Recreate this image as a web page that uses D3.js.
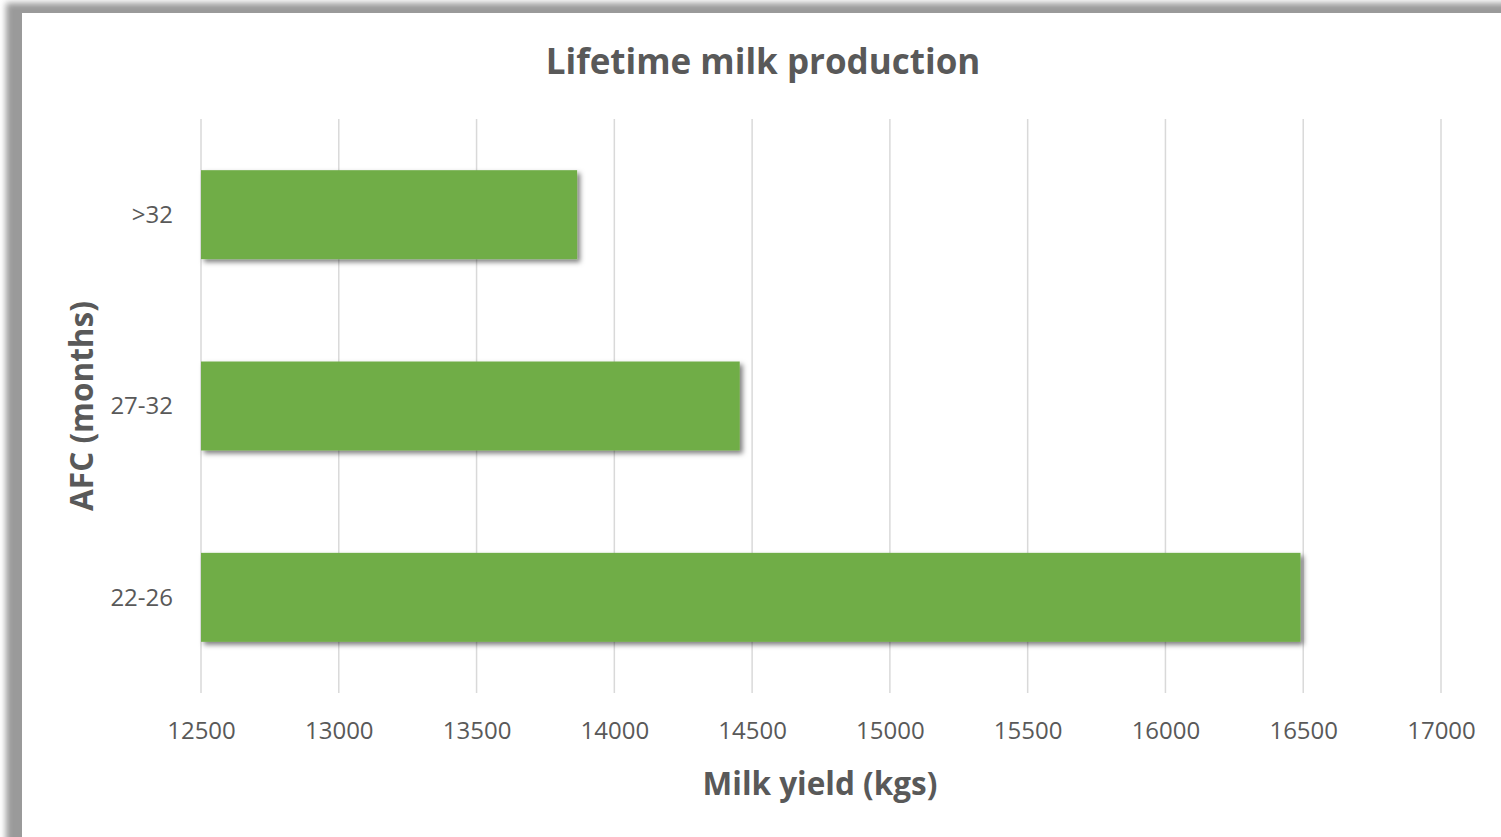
<!DOCTYPE html>
<html>
<head>
<meta charset="utf-8">
<script src="https://cdn.jsdelivr.net/npm/d3@7"></script>
<style>
  html, body { margin: 0; padding: 0; background: #ffffff; }
  svg { display: block; }
  text { font-family: "Open Sans", "Liberation Sans", sans-serif; fill: #595959; }
</style>
</head>
<body>
<script>
// Lifetime milk production by age at first calving (AFC)
const categories = ["22-26", "27-32", ">32"];
const milkYield = [16490, 14455, 13865];
const xTicks = [12500, 13000, 13500, 14000, 14500, 15000, 15500, 16000, 16500, 17000];

const W = 1501, H = 837;
const margin = { left: 201, right: 60, top: 119, bottom: 144 };

const svg = d3.select("body").append("svg").attr("width", W).attr("height", H);
const defs = svg.append("defs");

// soft frame shadow
defs.append("filter").attr("id", "frameBlur")
  .attr("x", "-5%").attr("y", "-5%").attr("width", "110%").attr("height", "110%")
  .append("feGaussianBlur").attr("stdDeviation", 3);

// bar drop shadow
const bs = defs.append("filter").attr("id", "barShadow")
  .attr("x", "-5%").attr("y", "-10%").attr("width", "115%").attr("height", "130%");
bs.append("feDropShadow").attr("dx", 3).attr("dy", 3).attr("stdDeviation", 2.5)
  .attr("flood-color", "#000").attr("flood-opacity", 0.5);

// chart frame
svg.append("rect").attr("x", 6).attr("y", 3).attr("width", W + 20).attr("height", H + 20)
  .attr("fill", "#9a9a9a").attr("filter", "url(#frameBlur)");
svg.append("rect").attr("x", 22).attr("y", 13).attr("width", W).attr("height", H)
  .attr("fill", "#ffffff");

const x = d3.scaleLinear()
  .domain([12500, 17000])
  .range([margin.left, 1441]);

const y = d3.scaleBand()
  .domain([">32", "27-32", "22-26"])
  .range([margin.top, H - margin.bottom])
  .paddingInner(0.535)
  .paddingOuter(0.2675);

// vertical gridlines
svg.append("g").selectAll("line").data(xTicks).join("line")
  .attr("x1", d => x(d)).attr("x2", d => x(d))
  .attr("y1", margin.top).attr("y2", H - margin.bottom)
  .attr("stroke", "#d9d9d9").attr("stroke-width", 1.5);

// bars
svg.append("g").selectAll("rect").data(categories.map((c, i) => ({ c, v: milkYield[i] })))
  .join("rect")
  .attr("x", x(12500))
  .attr("y", d => y(d.c))
  .attr("width", d => x(d.v) - x(12500))
  .attr("height", y.bandwidth())
  .attr("fill", "#70ad47")
  .attr("filter", "url(#barShadow)");

// x axis labels
const xAxis = d3.axisBottom(x).tickValues(xTicks).tickFormat(d3.format("d")).tickSize(0).tickPadding(0);
const gx = svg.append("g").attr("transform", `translate(0,${H - margin.bottom})`).call(xAxis);
gx.select(".domain").remove();
gx.selectAll("text").attr("y", 46).attr("dy", null)
  .style("font-size", "24px").style("fill", "#595959").style("font-family", "'Open Sans', sans-serif");

// y axis labels
const yAxis = d3.axisLeft(y).tickSize(0).tickPadding(0);
const gy = svg.append("g").attr("transform", `translate(${margin.left},0)`).call(yAxis);
gy.select(".domain").remove();
gy.selectAll("text").attr("x", -28).attr("dy", "0.35em")
  .style("font-size", "24px").style("fill", "#595959").style("font-family", "'Open Sans', sans-serif");

// title
svg.append("text").attr("x", 763).attr("y", 74).attr("text-anchor", "middle")
  .style("font-size", "35px").style("font-weight", "bold")
  .text("Lifetime milk production");

// axis titles
svg.append("text").attr("x", 820).attr("y", 795).attr("text-anchor", "middle")
  .style("font-size", "31.5px").style("font-weight", "bold")
  .text("Milk yield (kgs)");

svg.append("text")
  .attr("transform", "translate(93,406) rotate(-90)")
  .attr("text-anchor", "middle")
  .style("font-size", "31.5px").style("font-weight", "bold")
  .text("AFC (months)");
</script>
</body>
</html>
